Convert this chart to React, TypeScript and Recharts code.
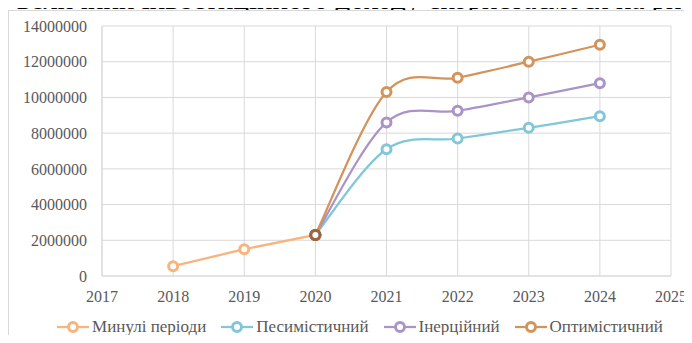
import React from 'react';
import {
  LineChart,
  Line,
  XAxis,
  YAxis,
  CartesianGrid,
  Legend,
} from 'recharts';

// Years and values per scenario (null = no value for that year)
const years = [2018, 2019, 2020, 2021, 2022, 2023, 2024];
const pastValues = [550000, 1500000, 2300000, null, null, null, null];
const pessimistic = [null, null, 2300000, 7100000, 7700000, 8300000, 8950000];
const inertial = [null, null, 2300000, 8600000, 9250000, 10000000, 10800000];
const optimistic = [null, null, 2300000, 10300000, 11100000, 12000000, 12950000];

const xTicks = [2017, 2018, 2019, 2020, 2021, 2022, 2023, 2024, 2025];
const yTicks = [0, 2000000, 4000000, 6000000, 8000000, 10000000, 12000000, 14000000];

const seriesList = [
  { key: 'past', name: 'Минулі періоди', color: '#F8B47C' },
  { key: 'pess', name: 'Песимістичний', color: '#82C7D7' },
  { key: 'inert', name: 'Інерційний', color: '#AA93C7' },
  { key: 'opt', name: 'Оптимістичний', color: '#D3935A' },
];

// the year where all scenarios start from the last known value
const JOIN_YEAR = 2020;

const data = years.map((year, i) => ({
  year,
  past: pastValues[i],
  pess: pessimistic[i],
  inert: inertial[i],
  opt: optimistic[i],
}));

const FONT = '"Times New Roman", "Liberation Serif", "DejaVu Serif", serif';
const TEXT = '#595959';
const GRID = '#D9D9D9';

// Office-style smoothed line: Catmull-Rom segments as cubic beziers
const smoothCurve = (context: any) => {
  let pts: number[][] = [];
  return {
    areaStart() {},
    areaEnd() {},
    lineStart() {
      pts = [];
    },
    point(x: number, y: number) {
      pts.push([+x, +y]);
    },
    lineEnd() {
      if (!pts.length) return;
      context.moveTo(pts[0][0], pts[0][1]);
      for (let i = 0; i < pts.length - 1; i++) {
        const p0 = pts[i - 1] || pts[i];
        const p1 = pts[i];
        const p2 = pts[i + 1];
        const p3 = pts[i + 2] || p2;
        context.bezierCurveTo(
          p1[0] + (p2[0] - p0[0]) / 6,
          p1[1] + (p2[1] - p0[1]) / 6,
          p2[0] - (p3[0] - p1[0]) / 6,
          p2[1] - (p3[1] - p1[1]) / 6,
          p2[0],
          p2[1]
        );
      }
    },
  };
};

// hollow marker; the shared point is darker where all markers overlap
const makeDot = (color: string) => (props: any) => {
  const { cx, cy, payload, index } = props;
  if (cx == null || cy == null) return <g key={index} />;
  const stroke = payload && payload.year === JOIN_YEAR ? '#9C6642' : color;
  return (
    <circle key={index} cx={cx} cy={cy} r={4.5} fill="#fff" stroke={stroke} strokeWidth={3} />
  );
};

const LegendContent = () => (
  <div
    style={{
      display: 'flex',
      justifyContent: 'center',
      gap: 14,
      fontFamily: FONT,
      fontSize: 17,
      color: TEXT,
      paddingLeft: 48,
    }}
  >
    {seriesList.map((s) => (
      <div key={s.key} style={{ display: 'flex', alignItems: 'center' }}>
        <svg width={34} height={14} style={{ marginRight: 2 }}>
          <line x1={1} y1={7} x2={33} y2={7} stroke={s.color} strokeWidth={2.25} />
          <circle cx={17} cy={7} r={4.5} fill="#fff" stroke={s.color} strokeWidth={3} />
        </svg>
        <span>{s.name}</span>
      </div>
    ))}
  </div>
);

export default function App() {
  return (
    <div
      style={{
        position: 'relative',
        width: 692,
        height: 343,
        margin: -8,
        overflow: 'hidden',
        background: '#fff',
      }}
    >
      <div
        style={{
          position: 'absolute',
          left: -4,
          top: -15,
          fontFamily: FONT,
          fontSize: 29,
          lineHeight: '29px',
          whiteSpace: 'nowrap',
          color: '#000',
        }}
      >
        в величини інвестиційного доходу скористаємося на рис
      </div>
      <div
        style={{
          position: 'absolute',
          left: 8,
          top: 10,
          width: 720,
          height: 400,
          border: `1px solid ${GRID}`,
          background: '#fff',
        }}
      />
      <div style={{ position: 'absolute', left: 0, top: 0 }}>
        <LineChart
          width={692}
          height={343}
          data={data}
          margin={{ top: 26, right: 21, left: 0, bottom: 6 }}
        >
          <CartesianGrid stroke={GRID} strokeWidth={1} />
          <XAxis
            dataKey="year"
            type="number"
            domain={[2017, 2025]}
            ticks={xTicks}
            allowDecimals={false}
            axisLine={{ stroke: GRID }}
            tickLine={false}
            tickMargin={9}
            height={41}
            tick={{ fill: TEXT, fontSize: 16, fontFamily: FONT }}
          />
          <YAxis
            type="number"
            domain={[0, 14000000]}
            ticks={yTicks}
            width={102}
            axisLine={{ stroke: GRID }}
            tickLine={false}
            tickMargin={9}
            tick={{ fill: TEXT, fontSize: 16, fontFamily: FONT }}
          />
          <Legend verticalAlign="bottom" content={<LegendContent />} />
          {seriesList.map((s) => (
            <Line
              key={s.key}
              dataKey={s.key}
              name={s.name}
              type={s.key === 'past' ? 'linear' : (smoothCurve as any)}
              stroke={s.color}
              strokeWidth={2.25}
              dot={makeDot(s.color)}
              activeDot={false}
              isAnimationActive={false}
            />
          ))}
        </LineChart>
      </div>
    </div>
  );
}
